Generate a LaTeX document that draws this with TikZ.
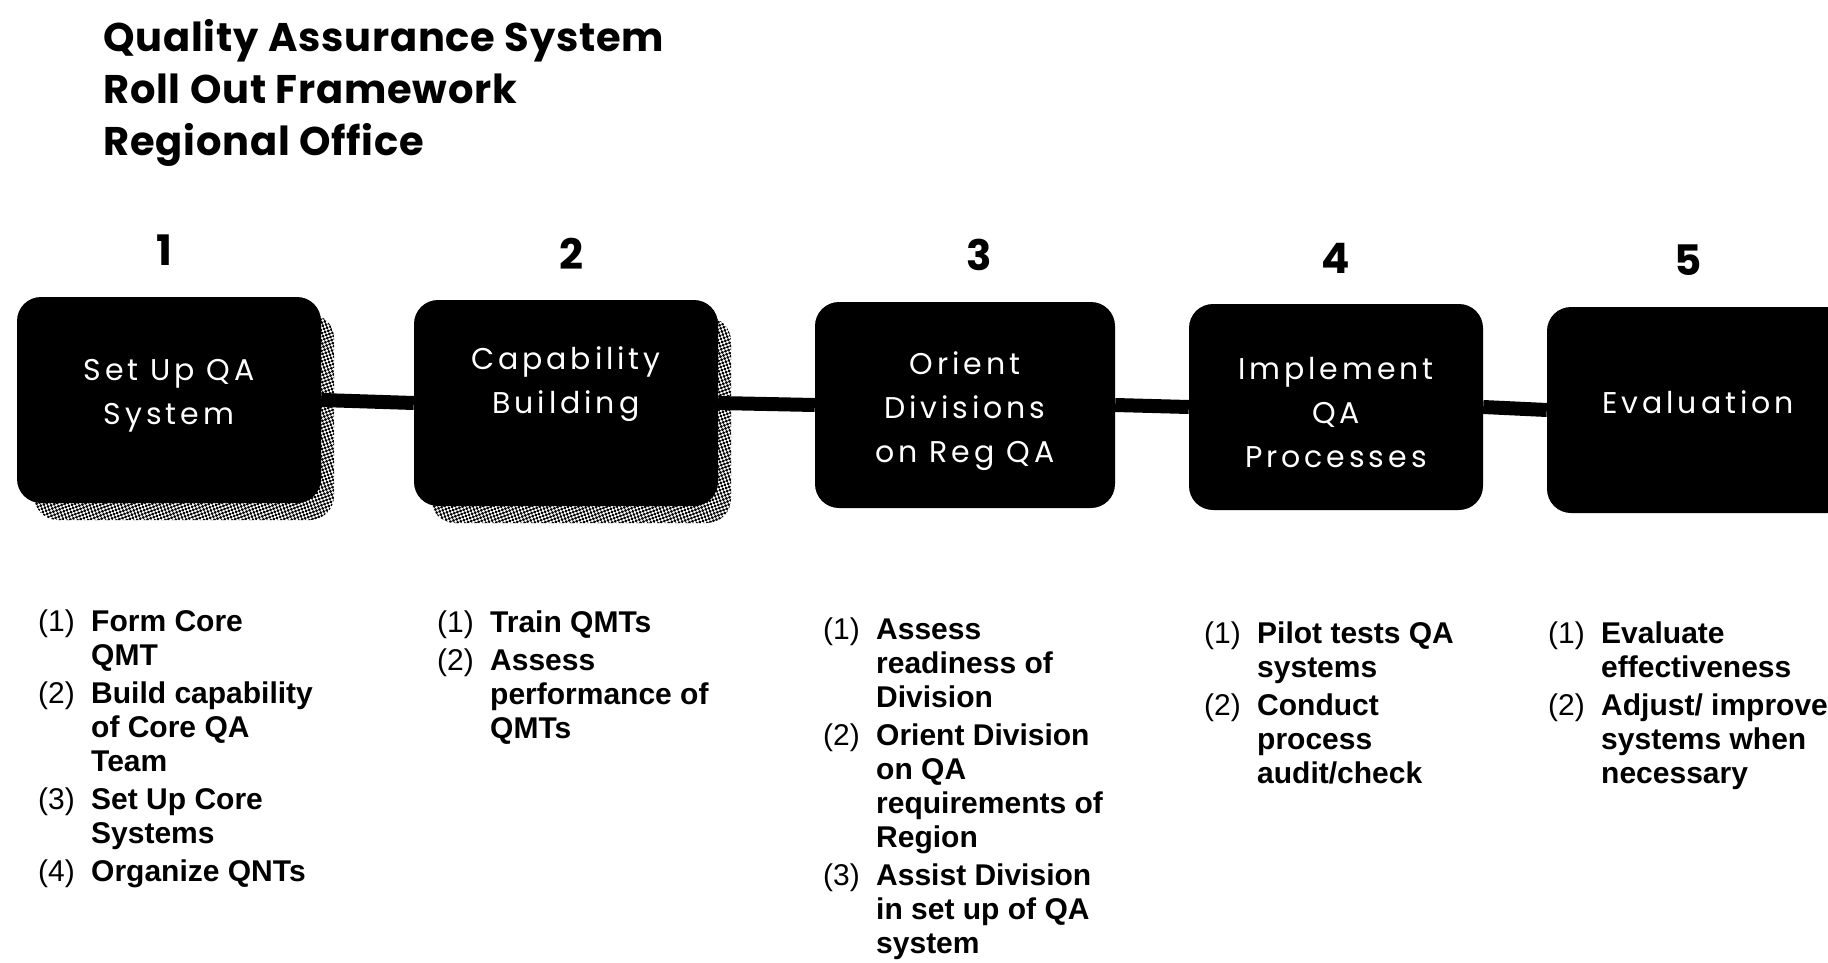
\documentclass[tikz,border=0pt]{standalone}
\usepackage{fontspec}
\usepackage{array}
\setmainfont{Liberation Sans}
\newfontfamily\titlefont{Poppins}
\newfontfamily\titlewidefont[LetterSpace=2]{Poppins}
\newfontfamily\boxfont[LetterSpace=13]{Poppins}
\usetikzlibrary{patterns.meta}
\tikzset{
  stage/.style={fill=black, rounded corners=24pt, minimum width=300pt, minimum height=206pt, inner sep=0pt},
  shadowbox/.style={pattern={Dots[radius=1.6pt,distance=3.3pt,angle=20]}, pattern color=black, rounded corners=24pt, minimum width=300pt, minimum height=206pt, inner sep=0pt},
  boxtext/.style={text=white, font=\boxfont\fontsize{30}{44}\selectfont, align=center, inner sep=0pt},
  num/.style={font=\titlefont\bfseries\fontsize{42}{42}\selectfont, inner sep=0pt},
  titleline/.style={anchor=base west, inner sep=0pt, font=\titlewidefont\bfseries\fontsize{40}{44}\selectfont},
  conn/.style={line width=14pt},
  items/.style={anchor=base west, inner sep=0pt, font=\fontsize{30}{34}\selectfont},
}
\newcolumntype{P}{>{\mdseries}p{53pt}}
\newcolumntype{B}{>{\bfseries}l}
\begin{document}
\begin{tikzpicture}[x=1pt,y=-1pt]
\fill[white] (0,0) rectangle (1828,963);
\useasboundingbox (0,0) rectangle (1828,963);

% title
\node[titleline] (ti1) at (103,52) {Quality Assurance System};
\node[titleline] (ti2) at (103,104) {Roll Out Framework};
\node[titleline] (ti3) at (103,155) {Regional Office};

% step numbers
\node[num] (n1) at (164,250) {1};
\node[num] (n2) at (571,254) {2};
\node[num] (n3) at (979,255) {3};
\node[num] (n4) at (1336,258) {4};
\node[num] (n5) at (1688,260) {5};

% shadows
\node[shadowbox] (s1) at (184,417) {};
\node[shadowbox] (s2) at (581,420) {};

% boxes
\node[stage, minimum width=304pt] (b1) at (169,400) {};
\node[stage, minimum width=304pt] (b2) at (566,403) {};
\node[stage] (b3) at (965,405) {};
\node[stage, minimum width=294pt] (b4) at (1336,407) {};
\node[stage, minimum width=304pt] (b5) at (1699,410) {};

% connectors
\draw[conn] (b1.east) -- (b2.west);
\draw[conn] (b2.east) -- (b3.west);
\draw[conn] (b3.east) -- (b4.west);
\draw[conn] (b4.east) -- (b5.west);

% box texts
\node[boxtext] (t1) at (169,396) {Set Up QA\\System};
\node[boxtext] (t2) at (566,384) {Capability\\Building};
\node[boxtext] (t3) at (965,411) {Orient\\Divisions\\on Reg QA};
\node[boxtext] (t4) at (1336,413) {Implement\\QA\\Processes};
\node[boxtext] (t5) at (1698,402) {Evaluation};

% lists
\node[items] (l1) at (38,631) {\begin{tabular}[t]{@{}P@{}B@{}}
(1) & Form Core\\
    & QMT\\[4pt]
(2) & Build capability\\
    & of Core QA\\
    & Team\\[4pt]
(3) & Set Up Core\\
    & Systems\\[4pt]
(4) & Organize QNTs
\end{tabular}};

\node[items] (l2) at (437,632) {\begin{tabular}[t]{@{}P@{}B@{}}
(1) & Train QMTs\\[4pt]
(2) & Assess\\
    & performance of\\
    & QMTs
\end{tabular}};

\node[items] (l3) at (823,639) {\begin{tabular}[t]{@{}P@{}B@{}}
(1) & Assess\\
    & readiness of\\
    & Division\\[4pt]
(2) & Orient Division\\
    & on QA\\
    & requirements of\\
    & Region\\[4pt]
(3) & Assist Division\\
    & in set up of QA\\
    & system
\end{tabular}};

\node[items] (l4) at (1204,643) {\begin{tabular}[t]{@{}P@{}B@{}}
(1) & Pilot tests QA\\
    & systems\\[4pt]
(2) & Conduct\\
    & process\\
    & audit/check
\end{tabular}};

\node[items] (l5) at (1548,643) {\begin{tabular}[t]{@{}P@{}B@{}}
(1) & Evaluate\\
    & effectiveness\\[4pt]
(2) & Adjust/ improve\\
    & systems when\\
    & necessary
\end{tabular}};
\end{tikzpicture}
\end{document}
